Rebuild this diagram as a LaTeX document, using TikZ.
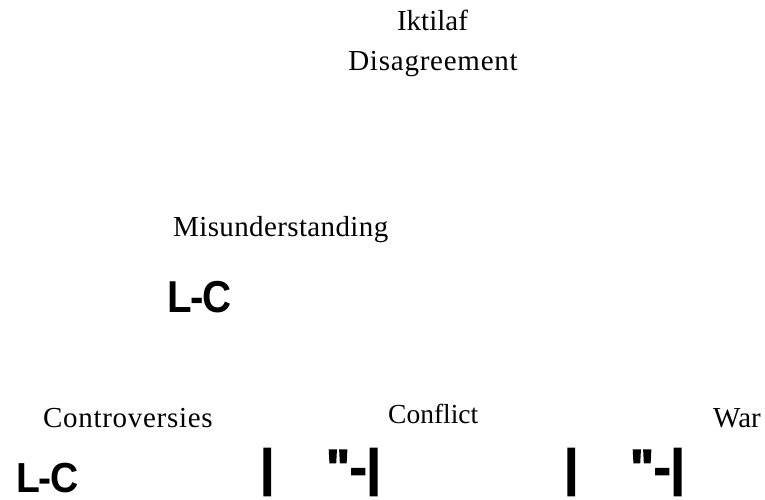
\documentclass[tikz,border=0pt]{standalone}
\usepackage{fontspec}
\usepackage{graphicx}
\setmainfont{Liberation Serif}
\newfontfamily\headsans{Liberation Sans Bold}
\newfontfamily\barfont{Liberation Sans Bold}[FakeBold=3]
\newcommand\lctext{L\kern-0.04em-\kern-0.03em C}
\begin{document}
\begin{tikzpicture}[x=1pt,y=-1pt,
  term/.style={inner sep=0pt,font=\fontsize{29}{34}\selectfont},
  abbr/.style={inner sep=0pt,anchor=base west},
  glyph/.style={inner sep=0pt,anchor=base west,font=\barfont\fontsize{50}{60}\selectfont}]
\useasboundingbox (0,0) rectangle (765,500);
% heading
\node[term,anchor=base] (iktilaf) at (432.5,31) {Iktilaf};
\node[term,anchor=base] (disagree) at (433,71) {\addfontfeature{LetterSpace=2.6}Disagreement};
% middle level
\node[term,anchor=base west] (misund) at (173,236) {\addfontfeature{LetterSpace=1.3}Misunderstanding};
\node[abbr,font=\headsans\fontsize{44.7}{50}\selectfont] (lcmid) at (167,312) {\scalebox{0.9}[1]{\lctext}};
% bottom level
\node[term,anchor=base west] (contro) at (43,427) {\addfontfeature{LetterSpace=2.4}Controversies};
\node[term,anchor=base west,font=\fontsize{27.5}{33}\selectfont] (conflict) at (388,423) {Conflict};
\node[term,anchor=base west] (war) at (713,427) {War};
\node[abbr,font=\headsans\fontsize{42}{48}\selectfont] (lcbot) at (16,492.5) {\scalebox{0.93}[1]{\lctext}};
% symbol runs
\node[glyph] (bara) at (260,484.5) {|};
\node[glyph] (marka) at (326,484.5) {"-|};
\node[glyph] (barb) at (564,484.5) {|};
\node[glyph] (markb) at (630,484.5) {"-|};
\end{tikzpicture}
\end{document}
